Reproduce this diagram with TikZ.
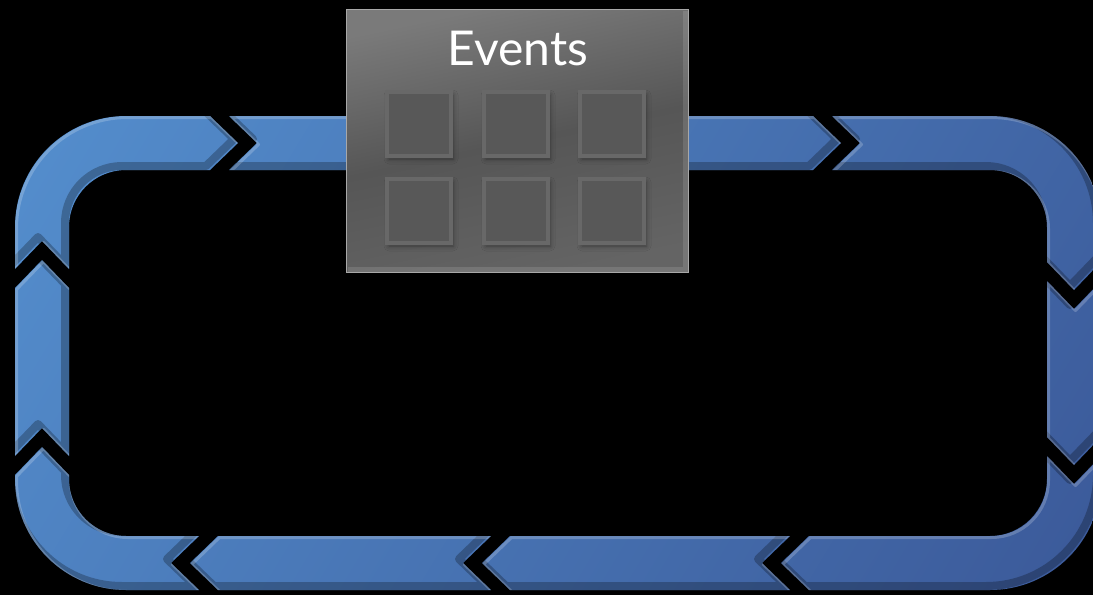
\documentclass[tikz,border=0pt]{standalone}
\usepackage{fontspec}
\newfontfamily\evfont{Lato}
\usetikzlibrary{shadows.blur}
\definecolor{bandL}{RGB}{89,153,216}
\definecolor{bandR}{RGB}{54,78,142}
\definecolor{evtop}{RGB}{122,122,122}
\definecolor{evmid}{RGB}{86,86,86}
\definecolor{evbot}{RGB}{100,100,100}
\definecolor{evline}{RGB}{168,168,168}
\definecolor{sqring}{RGB}{104,104,104}
\definecolor{sqfill}{RGB}{88,88,88}
\tikzset{
  bandshade/.style={top color=bandL, bottom color=bandR, shading angle=59},
  bandlight/.style={draw=white, draw opacity=0.2, line width=3pt, line join=round, shift={(1.5,-1.5)}},
  banddark/.style={draw=black, draw opacity=0.25, line width=8pt, line join=round, shift={(-4,4)}},
  evbox/.style={draw=evline, line width=1.2pt, top color=evtop, bottom color=evbot, middle color=evmid, shading angle=12, inner sep=0pt},
  evrim/.style={draw=white, draw opacity=0.12, line width=5pt},
  evtitle/.style={anchor=base, text=white, inner sep=0pt, font=\evfont\fontsize{48pt}{50pt}\selectfont},
  evsq/.style={draw=sqring, fill=sqfill, line width=4pt, minimum size=64pt, inner sep=0pt,
    blur shadow={shadow xshift=2pt, shadow yshift=-3pt, shadow blur radius=5pt}}
}
\newcommand\chevseg[1]{%
  \begin{scope}
    \clip #1;
    \shade[bandshade] (-272,-1183) rectangle (1388,477);
    \draw[banddark] #1;
    \draw[bandlight] #1;
  \end{scope}}
\begin{document}
\begin{tikzpicture}[x=1pt, y=1pt]
\useasboundingbox (0,0) rectangle (1093,-595);
\fill[black] (0,0) rectangle (1093,-595);
% loop segments (clockwise)
\chevseg{(15,-269) -- (42,-241) -- (69,-269) -- (69,-227) arc[start angle=180, end angle=90, radius=57] -- (210,-170) -- (238,-143) -- (210,-116) -- (126,-116) arc[start angle=90, end angle=180, radius=111] -- cycle}
\chevseg{(229,-116) -- (257,-143) -- (229,-170) -- (813,-170) -- (841,-143) -- (813,-116) -- cycle}
\chevseg{(832,-116) -- (860,-143) -- (832,-170) -- (990,-170) arc[start angle=90, end angle=0, radius=57] -- (1047,-262) -- (1074,-290) -- (1101,-262) -- (1101,-227) arc[start angle=0, end angle=90, radius=111] -- cycle}
\chevseg{(1047,-281) -- (1074,-309) -- (1101,-281) -- (1101,-437) -- (1074,-465) -- (1047,-437) -- cycle}
\chevseg{(1047,-456) -- (1074,-484) -- (1101,-456) -- (1101,-479) arc[start angle=0, end angle=-90, radius=111] -- (809,-590) -- (781,-563) -- (809,-536) -- (990,-536) arc[start angle=-90, end angle=0, radius=57] -- cycle}
\chevseg{(790,-536) -- (762,-563) -- (790,-590) -- (510,-590) -- (482,-563) -- (510,-536) -- cycle}
\chevseg{(491,-536) -- (463,-563) -- (491,-590) -- (218,-590) -- (190,-563) -- (218,-536) -- cycle}
\chevseg{(199,-536) -- (171,-563) -- (199,-590) -- (126,-590) arc[start angle=270, end angle=180, radius=111] -- (15,-475) -- (42,-447) -- (69,-475) -- (69,-479) arc[start angle=180, end angle=270, radius=57] -- cycle}
\chevseg{(15,-456) -- (42,-428) -- (69,-456) -- (69,-288) -- (42,-260) -- (15,-288) -- cycle}
% events box
\node[evbox, anchor=north west, minimum width=342pt, minimum height=263pt] (events) at (346,-9) {};
\draw[evrim] ([xshift=-3.5pt,yshift=-1.5pt]events.north east) -- ([xshift=-3.5pt,yshift=3.5pt]events.south east) -- ([xshift=1.5pt,yshift=3.5pt]events.south west);
\node[evsq] (e1) at (419,-124) {};
\node[evsq] (e2) at (516,-124) {};
\node[evsq] (e3) at (612,-124) {};
\node[evsq] (e4) at (419,-211) {};
\node[evsq] (e5) at (516,-211) {};
\node[evsq] (e6) at (612,-211) {};
\node[evtitle] (title) at (518,-65) {Events};
\end{tikzpicture}
\end{document}
